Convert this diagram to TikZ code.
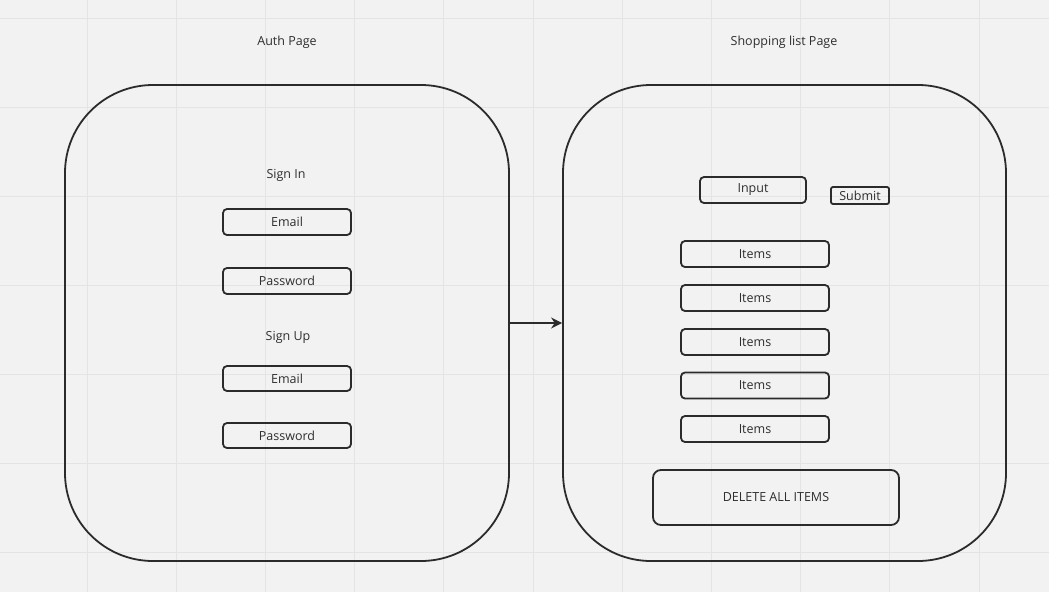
\documentclass[tikz,border=0pt]{standalone}
\usepackage{xcolor}
\usepackage{fontspec}
\setmainfont{Open Sans}
\usepackage{tikz}
\usetikzlibrary{shapes, arrows.meta, positioning}

\definecolor{boardbg}{HTML}{F2F2F2}
\definecolor{gridgray}{HTML}{E4E4E4}
\definecolor{inkgray}{HTML}{2B2B2B}
\definecolor{textgray}{HTML}{2E2E2E}

\tikzset{
    page/.style={draw=inkgray, rounded corners=88pt, line width=1.8pt, inner sep=0pt},
    field/.style={draw=inkgray, rounded corners=4pt, line width=1.8pt, inner sep=0pt,
        minimum width=128pt, minimum height=26pt, text=textgray, font=\fontsize{12.5}{14}\selectfont},
    label/.style={text=textgray, font=\fontsize{12.5}{14}\selectfont, inner sep=0pt}
}

\begin{document}
\begin{tikzpicture}[x=1pt, y=-1pt]
    \fill[boardbg] (0,0) rectangle (1049,592);
    \useasboundingbox (0,0) rectangle (1049,592);
    % grid
    \foreach \k in {0,...,10}
        \draw[gridgray, line width=1pt] ({87+89.2*\k},0) -- ++(0,592);
    \foreach \k in {0,...,6}
        \draw[gridgray, line width=1pt] (0,{18+89.1*\k}) -- ++(1049,0);

    % pages
    \node[label] (authtitle) at (287,42) {Auth Page};
    \node[label] (shoptitle) at (784,42) {Shopping list Page};
    \node[page, minimum width=444pt, minimum height=476pt] (authbox) at (287,323) {};
    \node[page, minimum width=443pt, minimum height=476pt] (shopbox) at (784.5,323) {};

    % auth page
    \node[label] (signin) at (286,175.5) {Sign In};
    \node[field] (siemail) at (287,222) {Email};
    \node[field] (sipass) at (287,281) {Password};
    \node[label] (signup) at (288,337.5) {Sign Up};
    \node[field, minimum height=25pt] (suemail) at (287,378.5) {Email};
    \node[field, minimum height=25pt] (supass) at (287,435.5) {Password};

    % shopping list page
    \node[field, minimum width=106pt] (input) at (753,190) {Input};
    \node[field, minimum width=58pt, minimum height=17pt, rounded corners=2pt] (submit) at (860,195.5) {Submit};
    \foreach \y [count=\i] in {254,298,342,385.5,429}
        \node[field, minimum width=148pt] (item\i) at (755,\y) {Items};
    \node[field, minimum width=246pt, minimum height=55pt, rounded corners=8pt] (delall) at (776,497.5) {DELETE ALL ITEMS};

    \draw[-{Stealth[length=11pt, width=11pt]}, inkgray, line width=1.8pt] (authbox.east) -- (shopbox.west);
\end{tikzpicture}
\end{document}
